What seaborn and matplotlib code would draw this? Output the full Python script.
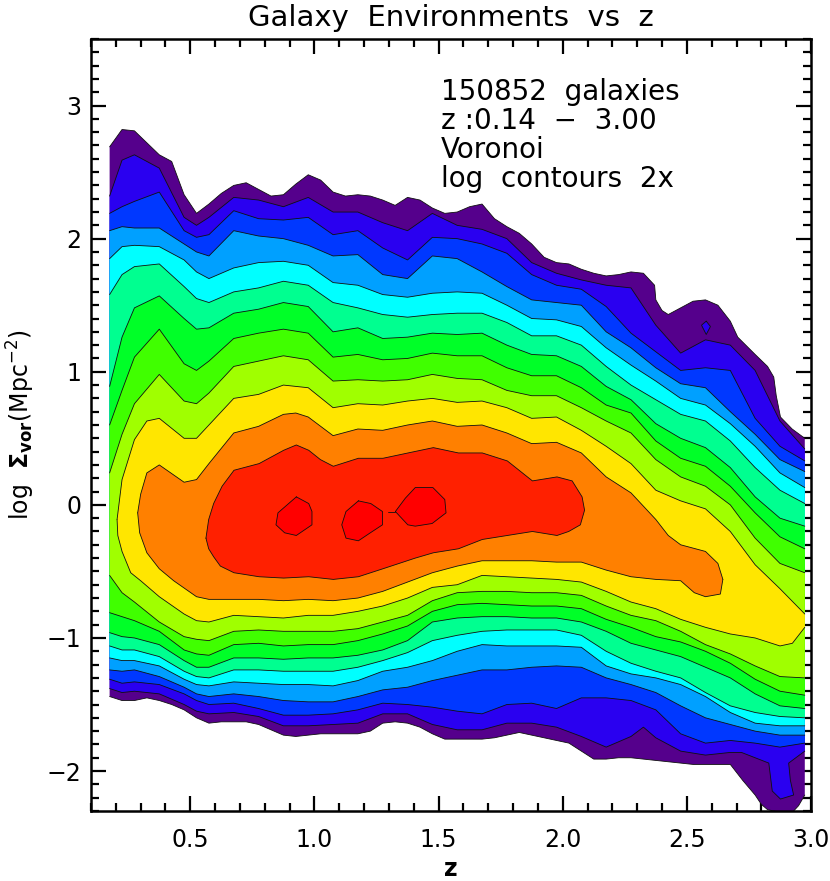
import matplotlib
matplotlib.use("Agg")
import matplotlib.pyplot as plt
import seaborn as sns
from matplotlib.ticker import MultipleLocator

# shared z knots for the contour lines
z_knots = [0.175, 0.225, 0.275, 0.375, 0.475, 0.525, 0.575, 0.675, 0.775, 0.875, 0.975,
           1.075, 1.175, 1.275, 1.375, 1.475, 1.575, 1.675, 1.775, 1.875, 1.975, 2.075,
           2.175, 2.275, 2.375, 2.475, 2.575, 2.675, 2.775, 2.875, 2.975]

# outermost contour
purple_top_z = [0.175, 0.225, 0.275, 0.325, 0.375, 0.425, 0.475, 0.525, 0.575, 0.625, 0.675, 0.725,
                0.775, 0.825, 0.875, 0.925, 0.975, 1.025, 1.075, 1.125, 1.175, 1.225, 1.275, 1.325,
                1.375, 1.425, 1.475, 1.525, 1.575, 1.625, 1.675, 1.725, 1.775, 1.825, 1.875, 1.925,
                1.975, 2.025, 2.075, 2.125, 2.175, 2.225, 2.275, 2.325, 2.37, 2.375, 2.40, 2.425,
                2.475, 2.525, 2.575, 2.625, 2.675, 2.705, 2.775, 2.825, 2.85, 2.86, 2.877, 2.924, 2.975]
purple_top = [2.69, 2.82, 2.81, 2.72, 2.63, 2.58, 2.33, 2.19, 2.26, 2.34, 2.40, 2.42,
              2.37, 2.32, 2.33, 2.41, 2.48, 2.44, 2.35, 2.32, 2.33, 2.32, 2.29, 2.25,
              2.31, 2.29, 2.23, 2.19, 2.20, 2.24, 2.26, 2.15, 2.09, 2.04, 1.96, 1.86,
              1.82, 1.81, 1.77, 1.74, 1.72, 1.73, 1.75, 1.74, 1.65, 1.54, 1.46, 1.43,
              1.48, 1.53, 1.54, 1.50, 1.38, 1.26, 1.13, 1.04, 0.96, 0.82, 0.66, 0.57, 0.50]
purple_low_z = [0.175, 0.225, 0.275, 0.325, 0.375, 0.425, 0.475, 0.525, 0.575, 0.625, 0.675, 0.725,
                0.775, 0.825, 0.875, 0.925, 0.975, 1.025, 1.075, 1.125, 1.175, 1.225, 1.275, 1.325,
                1.375, 1.425, 1.475, 1.525, 1.575, 1.625, 1.675, 1.725, 1.775, 1.825, 1.875, 1.925,
                1.975, 2.025, 2.075, 2.125, 2.175, 2.225, 2.275, 2.325, 2.375, 2.425, 2.475, 2.525,
                2.575, 2.625, 2.675, 2.725, 2.775, 2.80, 2.825, 2.875, 2.925, 2.95, 2.975]
purple_low = [-1.44, -1.47, -1.47, -1.45, -1.47, -1.50, -1.54, -1.60, -1.64, -1.63, -1.63, -1.63,
              -1.65, -1.69, -1.73, -1.74, -1.73, -1.72, -1.72, -1.72, -1.72, -1.70, -1.64, -1.63,
              -1.64, -1.67, -1.72, -1.76, -1.76, -1.76, -1.76, -1.75, -1.73, -1.71, -1.73, -1.75,
              -1.77, -1.79, -1.85, -1.91, -1.91, -1.90, -1.90, -1.91, -1.92, -1.93, -1.94, -1.95,
              -1.95, -1.95, -1.95, -2.07, -2.18, -2.25, -2.29, -2.31, -2.31, -2.26, -2.18]

# upper contours, on z_knots
indigo_top = [2.32, 2.59, 2.63, 2.53, 2.16, 2.10, 2.16, 2.31, 2.29, 2.24, 2.31, 2.20, 2.20, 2.12, 2.06, 2.19,
              2.10, 2.07, 2.00, 1.82, 1.74, 1.69, 1.65, 1.63, 1.35, 1.14, 1.24, 1.20, 1.01, 0.63, 0.42]
blue_top = [2.19, 2.24, 2.28, 2.35, 2.06, 2.01, 2.03, 2.21, 2.15, 2.14, 2.16, 2.03, 2.06, 1.93, 1.84, 2.01,
            2.00, 1.96, 1.89, 1.73, 1.65, 1.62, 1.49, 1.29, 1.15, 1.01, 1.03, 1.01, 0.65, 0.44, 0.33]
sky_top = [2.06, 2.09, 2.08, 2.08, 1.96, 1.90, 1.87, 2.06, 2.02, 2.00, 1.95, 1.87, 1.88, 1.73, 1.70, 1.87,
           1.85, 1.75, 1.64, 1.54, 1.52, 1.50, 1.30, 1.18, 1.03, 0.91, 0.88, 0.70, 0.53, 0.34, 0.25]
cyan_top = [1.85, 1.94, 1.95, 1.94, 1.84, 1.75, 1.70, 1.78, 1.82, 1.83, 1.80, 1.67, 1.65, 1.58, 1.56, 1.59,
            1.60, 1.59, 1.50, 1.40, 1.39, 1.34, 1.18, 1.05, 0.93, 0.80, 0.75, 0.61, 0.44, 0.24, 0.13]
spring_top = [1.58, 1.73, 1.79, 1.81, 1.64, 1.55, 1.52, 1.60, 1.63, 1.68, 1.65, 1.52, 1.48, 1.43, 1.41, 1.43,
              1.44, 1.44, 1.37, 1.27, 1.27, 1.20, 1.04, 0.90, 0.79, 0.68, 0.63, 0.48, 0.28, 0.11, 0.01]
green_top = [0.89, 1.26, 1.48, 1.57, 1.40, 1.32, 1.33, 1.44, 1.47, 1.52, 1.49, 1.30, 1.33, 1.25, 1.26, 1.29,
             1.28, 1.29, 1.20, 1.13, 1.12, 1.04, 0.89, 0.79, 0.61, 0.50, 0.43, 0.28, 0.06, -0.10, -0.16]
chart_top = [0.60, 0.86, 1.11, 1.32, 1.06, 1.01, 1.08, 1.25, 1.29, 1.32, 1.29, 1.11, 1.13, 1.09, 1.10, 1.14,
             1.12, 1.12, 1.03, 0.97, 0.97, 0.88, 0.75, 0.69, 0.48, 0.35, 0.29, 0.14, -0.06, -0.24, -0.33]
lime_top = [0.24, 0.53, 0.76, 0.98, 0.78, 0.76, 0.84, 1.04, 1.08, 1.12, 1.09, 0.93, 0.94, 0.93, 0.94, 0.98,
            0.95, 0.94, 0.86, 0.82, 0.82, 0.73, 0.63, 0.54, 0.34, 0.21, 0.14, 0.00, -0.25, -0.44, -0.51]

# lower contours, on z_knots
lime_low = [-0.53, -0.66, -0.73, -0.88, -0.99, -1.01, -1.02, -0.95, -0.94, -0.95, -0.95, -0.95, -0.93, -0.88, -0.83, -0.72,
            -0.66, -0.65, -0.65, -0.66, -0.66, -0.68, -0.76, -0.83, -0.87, -0.95, -1.05, -1.12, -1.21, -1.29, -1.30]
chart_low = [-0.81, -0.84, -0.87, -0.95, -1.09, -1.12, -1.13, -1.05, -1.04, -1.06, -1.05, -1.05, -1.02, -0.97, -0.91, -0.80,
             -0.75, -0.74, -0.75, -0.76, -0.76, -0.78, -0.86, -0.92, -0.99, -1.03, -1.10, -1.19, -1.31, -1.40, -1.43]
green_low = [-0.96, -0.99, -1.00, -1.05, -1.17, -1.22, -1.22, -1.15, -1.15, -1.16, -1.15, -1.15, -1.13, -1.09, -1.02, -0.88,
             -0.85, -0.84, -0.84, -0.85, -0.85, -0.88, -0.95, -1.04, -1.09, -1.14, -1.22, -1.30, -1.42, -1.51, -1.53]
spring_low = [-1.06, -1.09, -1.09, -1.14, -1.25, -1.29, -1.30, -1.24, -1.24, -1.25, -1.25, -1.25, -1.22, -1.17, -1.11, -1.02,
              -0.98, -0.95, -0.94, -0.94, -0.94, -0.98, -1.10, -1.19, -1.25, -1.30, -1.41, -1.51, -1.56, -1.59, -1.60]
cyan_low = [-1.15, -1.17, -1.17, -1.21, -1.31, -1.35, -1.36, -1.33, -1.34, -1.35, -1.35, -1.36, -1.32, -1.25, -1.22, -1.17,
            -1.10, -1.05, -1.06, -1.06, -1.06, -1.07, -1.21, -1.27, -1.30, -1.35, -1.44, -1.56, -1.64, -1.66, -1.66]
sky_low = [-1.24, -1.25, -1.24, -1.29, -1.37, -1.42, -1.44, -1.42, -1.44, -1.47, -1.48, -1.48, -1.44, -1.39, -1.37, -1.32,
           -1.28, -1.24, -1.24, -1.22, -1.21, -1.22, -1.30, -1.35, -1.41, -1.51, -1.60, -1.65, -1.70, -1.73, -1.73]
blue_low = [-1.31, -1.34, -1.33, -1.35, -1.42, -1.47, -1.50, -1.49, -1.53, -1.58, -1.58, -1.57, -1.54, -1.49, -1.50, -1.52,
            -1.55, -1.57, -1.50, -1.49, -1.53, -1.45, -1.45, -1.47, -1.54, -1.72, -1.79, -1.77, -1.79, -1.82, -1.79]

# indigo lower edge has the tongue near z=2.9
indigo_low_z = [0.175, 0.225, 0.275, 0.375, 0.475, 0.525, 0.575, 0.675, 0.775, 0.875, 0.975,
                1.075, 1.175, 1.275, 1.375, 1.475, 1.575, 1.675, 1.775, 1.875, 1.975, 2.075,
                2.175, 2.275, 2.325, 2.375, 2.475, 2.575, 2.675, 2.72, 2.83, 2.844, 2.877, 2.93, 2.917, 2.91, 2.975]
indigo_low = [-1.38, -1.41, -1.40, -1.42, -1.50, -1.55, -1.57, -1.56, -1.59, -1.66, -1.66,
              -1.65, -1.64, -1.57, -1.57, -1.65, -1.69, -1.69, -1.64, -1.64, -1.67, -1.74,
              -1.82, -1.74, -1.67, -1.75, -1.85, -1.88, -1.86, -1.86, -1.94, -2.15, -2.21, -2.18, -2.07, -1.94, -1.85]
island_z = [2.578, 2.595, 2.578, 2.559, 2.578]
island_y = [1.38, 1.34, 1.28, 1.35, 1.38]

# yellow closes on the left
yellow_top_z = [0.205, 0.215, 0.225, 0.275, 0.325, 0.375, 0.475, 0.525, 0.575, 0.675, 0.775, 0.875, 0.975,
                1.075, 1.175, 1.275, 1.375, 1.475, 1.575, 1.675, 1.775, 1.875, 1.975, 2.075,
                2.175, 2.275, 2.375, 2.475, 2.575, 2.675, 2.775, 2.875, 2.975]
yellow_top = [-0.11, 0.04, 0.19, 0.49, 0.63, 0.65, 0.50, 0.50, 0.60, 0.80, 0.83, 0.90, 0.88,
              0.73, 0.76, 0.75, 0.78, 0.80, 0.77, 0.78, 0.73, 0.65, 0.66, 0.56,
              0.44, 0.31, 0.11, 0.03, -0.03, -0.20, -0.45, -0.63, -0.82]
yellow_low_z = [0.205, 0.208, 0.225, 0.26, 0.30, 0.375, 0.475, 0.525, 0.575, 0.675, 0.775, 0.875, 0.975,
                1.075, 1.175, 1.275, 1.375, 1.475, 1.575, 1.675, 1.775, 1.875, 1.975, 2.075,
                2.175, 2.275, 2.375, 2.475, 2.575, 2.675, 2.775, 2.875, 2.925, 2.975]
yellow_low = [-0.11, -0.23, -0.35, -0.51, -0.57, -0.69, -0.82, -0.87, -0.88, -0.83, -0.84, -0.85, -0.83,
              -0.83, -0.80, -0.76, -0.70, -0.62, -0.60, -0.53, -0.54, -0.55, -0.56, -0.58,
              -0.65, -0.73, -0.78, -0.86, -0.92, -0.97, -1.00, -1.06, -1.04, -0.92]

# orange, closed ring
orange_top_z = [0.288, 0.30, 0.325, 0.375, 0.475, 0.525, 0.575, 0.675, 0.775, 0.875, 0.925, 0.975, 1.075, 1.175, 1.275,
                1.375, 1.475, 1.575, 1.675, 1.775, 1.875, 1.975, 2.075, 2.175, 2.275, 2.375, 2.425, 2.475, 2.575, 2.625, 2.645]
orange_top = [-0.06, 0.08, 0.24, 0.30, 0.17, 0.19, 0.31, 0.54, 0.59, 0.68, 0.69, 0.66, 0.52, 0.57, 0.56,
              0.60, 0.63, 0.59, 0.60, 0.54, 0.46, 0.47, 0.39, 0.21, 0.09, -0.11, -0.23, -0.30, -0.35, -0.44, -0.56]
orange_low_z = [0.288, 0.296, 0.325, 0.375, 0.433, 0.525, 0.575, 0.675, 0.775, 0.875, 0.975, 1.075, 1.175, 1.275, 1.375,
                1.475, 1.575, 1.675, 1.775, 1.875, 1.975, 2.075, 2.175, 2.275, 2.375, 2.475, 2.53, 2.575, 2.635, 2.645]
orange_low = [-0.06, -0.21, -0.36, -0.48, -0.57, -0.69, -0.71, -0.71, -0.71, -0.72, -0.71, -0.72, -0.70, -0.65, -0.58,
              -0.51, -0.46, -0.42, -0.42, -0.42, -0.43, -0.43, -0.49, -0.54, -0.56, -0.57, -0.66, -0.69, -0.67, -0.56]

# red-orange ring
hot_z = [0.563, 0.574, 0.594, 0.628, 0.676, 0.777, 0.876, 0.927, 0.977, 1.024, 1.076, 1.177, 1.276, 1.377, 1.479, 1.580,
         1.676, 1.777, 1.878, 1.977, 2.038, 2.078, 2.088, 2.071, 2.024, 1.977, 1.878, 1.777, 1.676, 1.580, 1.479, 1.406,
         1.276, 1.177, 1.076, 0.977, 0.876, 0.777, 0.676, 0.621, 0.594, 0.574, 0.563]
hot_y = [-0.25, -0.11, 0.01, 0.14, 0.26, 0.31, 0.41, 0.45, 0.41, 0.34, 0.29, 0.35, 0.35, 0.39, 0.43, 0.39,
         0.39, 0.33, 0.18, 0.21, 0.18, 0.06, -0.04, -0.15, -0.20, -0.23, -0.20, -0.23, -0.26, -0.33, -0.36, -0.40,
         -0.48, -0.54, -0.56, -0.54, -0.55, -0.54, -0.51, -0.46, -0.39, -0.33, -0.25]

# red peaks
peak1_z = [0.927, 0.977, 0.990, 0.990, 0.927, 0.880, 0.845, 0.853, 0.927]
peak1_y = [0.06, 0.01, -0.05, -0.15, -0.23, -0.21, -0.15, -0.06, 0.06]
peak2_z = [1.177, 1.227, 1.274, 1.274, 1.225, 1.177, 1.127, 1.110, 1.127, 1.177]
peak2_y = [0.03, 0.01, -0.05, -0.15, -0.21, -0.27, -0.25, -0.15, -0.05, 0.03]
peak3_z = [1.326, 1.366, 1.406, 1.477, 1.525, 1.530, 1.474, 1.406, 1.376, 1.326]
peak3_y = [-0.05, 0.05, 0.13, 0.13, 0.04, -0.06, -0.14, -0.16, -0.15, -0.05]
tail_z = [1.296, 1.326]
tail_y = [-0.05, -0.05]

note_lines = ["150852  galaxies", "z :0.14  \u2212  3.00", "Voronoi", "log  contours  2x"]
x_ticks = [0.5, 1.0, 1.5, 2.0, 2.5, 3.0]
y_ticks = [-2, -1, 0, 1, 2, 3]


def band(ax, z_up, y_up, z_lo, y_lo, color):
    # polygon from the two edges, outline only along the contour lines
    ax.fill(list(z_up) + list(z_lo)[::-1], list(y_up) + list(y_lo)[::-1], color=color, lw=0)
    for xs, ys in [(z_up, y_up), (z_lo, y_lo)]:
        contour_line(ax, xs, ys)


def contour_line(ax, xs, ys):
    sns.lineplot(x=xs, y=ys, sort=False, estimator=None, color="#101010", lw=0.6, ax=ax)


def ring(ax, xs, ys, color):
    ax.fill(xs, ys, color=color, lw=0)
    contour_line(ax, xs, ys)


sns.set_style("ticks", {"text.color": "black", "axes.labelcolor": "black", "axes.edgecolor": "black",
                        "xtick.color": "black", "ytick.color": "black"})
plt.rcParams["font.family"] = ["DejaVu Sans"]

fig = plt.figure(figsize=(8.3, 8.81), dpi=100)
ax = fig.add_axes([91 / 830, 1 - 811 / 881, 720 / 830, 772 / 881])

band(ax, purple_top_z, purple_top, purple_low_z, purple_low, "#55008c")
band(ax, z_knots, indigo_top, indigo_low_z, indigo_low, "#2a00f0")
ring(ax, island_z, island_y, "#2a00f0")
band(ax, z_knots, blue_top, z_knots, blue_low, "#0038ff")
band(ax, z_knots, sky_top, z_knots, sky_low, "#00a0ff")
band(ax, z_knots, cyan_top, z_knots, cyan_low, "#00ffff")
band(ax, z_knots, spring_top, z_knots, spring_low, "#00ff90")
band(ax, z_knots, green_top, z_knots, green_low, "#00ff28")
band(ax, z_knots, chart_top, z_knots, chart_low, "#40ff00")
band(ax, z_knots, lime_top, z_knots, lime_low, "#a0ff00")
band(ax, yellow_top_z, yellow_top, yellow_low_z, yellow_low, "#ffe600")
band(ax, orange_top_z, orange_top, orange_low_z, orange_low, "#ff8000")
ring(ax, hot_z, hot_y, "#ff2000")
ring(ax, peak1_z, peak1_y, "#ff0000")
ring(ax, peak2_z, peak2_y, "#ff0000")
ring(ax, peak3_z, peak3_y, "#ff0000")
contour_line(ax, tail_z, tail_y)

ax.set_xlim(0.1, 3.0)
ax.set_ylim(-2.3, 3.5)
ax.set_xticks(x_ticks)
ax.set_yticks(y_ticks)
ax.xaxis.set_minor_locator(MultipleLocator(0.1))
ax.yaxis.set_minor_locator(MultipleLocator(0.1))
ax.tick_params(which="major", direction="in", length=11, width=1.6, top=True, right=True, labelsize=17)
ax.tick_params(which="minor", direction="in", length=5.5, width=1.6, top=True, right=True)
ax.tick_params(axis="x", which="major", pad=12)
ax.tick_params(axis="y", which="major", pad=7)
for side in ax.spines.values():
    side.set_linewidth(1.8)
    side.set_zorder(5)

ax.set_title("Galaxy  Environments  vs  z", fontsize=21, pad=9)
ax.set_xlabel("z", fontsize=17, fontweight="bold", labelpad=4)
ax.set_ylabel(r"log  $\mathbf{\Sigma_{vor}}$(Mpc$^{-2}$)", fontsize=17, labelpad=7)

for note_y, line in zip([3.105, 2.885, 2.665, 2.445], note_lines):
    ax.text(1.51, note_y, line, fontsize=20, va="center", ha="left")

fig.savefig("out.png", dpi=100)
